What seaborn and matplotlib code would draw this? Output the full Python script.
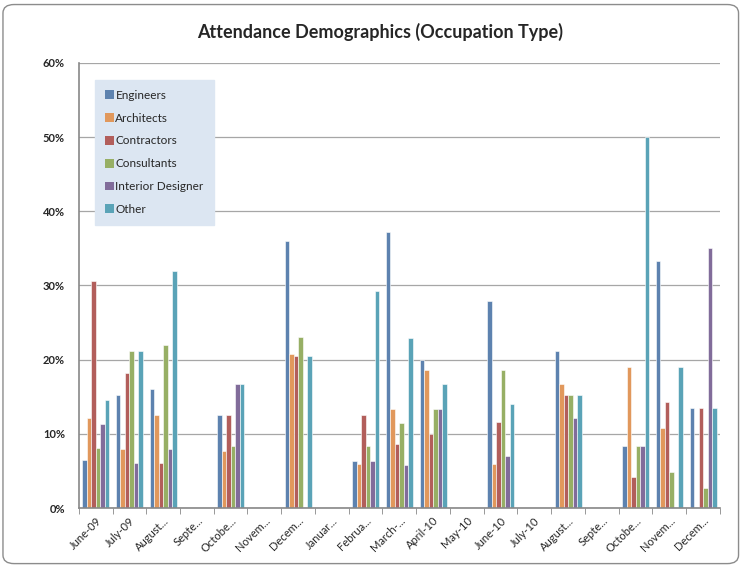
import numpy as np
import pandas as pd
import matplotlib
matplotlib.use("Agg")
import matplotlib.pyplot as plt
import seaborn as sns
from matplotlib.patches import FancyBboxPatch
from matplotlib.ticker import PercentFormatter

nan = np.nan

months = ["June-09", "July-09", "August-09", "September-09", "October-09",
          "November-09", "December-09", "January-10", "February-10",
          "March-10", "April-10", "May-10", "June-10", "July-10",
          "August-10", "September-10", "October-10", "November-10",
          "December-10"]
tick_labels = ["June-09", "July-09", "August...", "Septe...", "Octobe...",
               "Novem...", "Decem...", "Januar...", "Februa...", "March-...",
               "April-10", "May-10", "June-10", "July-10", "August...",
               "Septe...", "Octobe...", "Novem...", "Decem..."]

series = ["Engineers", "Architects", "Contractors", "Consultants",
          "Interior Designer", "Other"]

engineers = [6.5, 15.2, 16.0, nan, 12.5, nan, 36.0, nan, 6.3, 37.2, 20.0,
             nan, 27.9, nan, 21.2, nan, 8.3, 33.3, 13.5]
architects = [12.2, 8.0, 12.5, nan, 7.7, nan, 20.8, nan, 5.9, 13.3, 18.6,
              nan, 6.0, nan, 16.7, nan, 19.0, 10.8, nan]
contractors = [30.6, 18.2, 6.1, nan, 12.5, nan, 20.5, nan, 12.5, 8.6, 10.0,
               nan, 11.6, nan, 15.2, nan, 4.2, 14.3, 13.5]
consultants = [8.1, 21.2, 22.0, nan, 8.3, nan, 23.1, nan, 8.4, 11.4, 13.3,
               nan, 18.6, nan, 15.2, nan, 8.3, 4.8, 2.7]
interior = [11.3, 6.1, 8.0, nan, 16.7, nan, nan, nan, 6.3, 5.8, 13.3,
            nan, 7.0, nan, 12.1, nan, 8.3, nan, 35.1]
other = [14.5, 21.2, 32.0, nan, 16.7, nan, 20.5, nan, 29.2, 22.9, 16.7,
         nan, 14.0, nan, 15.2, nan, 50.0, 19.0, 13.5]

colors = ["#4F81BD", "#F79646", "#C0504D", "#9BBB59", "#8064A2", "#4BACC6"]

values = [engineers, architects, contractors, consultants, interior, other]
rows = []
for name, vals in zip(series, values):
    for m, v in zip(months, vals):
        rows.append({"Month": m, "Occupation": name, "Share": v})
df = pd.DataFrame(rows)

sns.set_style("white")
plt.rcParams["font.family"] = ["Lato", "DejaVu Sans"]

fig = plt.figure(figsize=(7.43, 5.67), dpi=100)
ax = fig.add_axes([0.106, 0.104, 0.863, 0.785])

sns.barplot(data=df, x="Month", y="Share", hue="Occupation", order=months,
            hue_order=series, palette=colors, width=0.8, errorbar=None,
            edgecolor="white", linewidth=0.4, ax=ax)

ax.set_ylim(0, 60)
ax.set_xlim(-0.5, len(months) - 0.5)
ax.set_yticks(range(0, 61, 10))
ax.yaxis.set_major_formatter(PercentFormatter(decimals=0))
ax.grid(axis="y", color="#a6a6a6", linewidth=0.9)
ax.set_axisbelow(True)
ax.set_xlabel("")
ax.set_ylabel("")

ax.set_xticks(range(len(months)))
ax.set_xticklabels(tick_labels, rotation=45, ha="right", rotation_mode="anchor",
                   fontsize=8)
ax.set_xticks(np.arange(-0.5, len(months), 1), minor=True)
ax.tick_params(axis="x", which="major", length=0, pad=5)
ax.tick_params(axis="x", which="minor", length=4, color="#888888", bottom=True)
ax.tick_params(axis="y", labelsize=8, length=0, pad=10)
for lbl in ax.get_yticklabels():
    lbl.set_fontweight("bold")

for s in ["top", "right"]:
    ax.spines[s].set_visible(False)
for s in ["left", "bottom"]:
    ax.spines[s].set_color("#888888")
    ax.spines[s].set_linewidth(1.2)

leg = ax.legend(loc="upper left", bbox_to_anchor=(0.025, 0.962), fontsize=8.5,
                frameon=True, fancybox=False, labelspacing=1.0,
                handlelength=0.75, handleheight=0.75, handletextpad=0.15,
                borderpad=0.85, borderaxespad=0)
leg.get_frame().set_facecolor("#DCE6F2")
leg.get_frame().set_edgecolor("#DCE6F2")
leg.get_frame().set_alpha(1)
for h in leg.legend_handles:
    h.set_edgecolor("none")

fig.text(0.512, 0.944, "Attendance Demographics (Occupation Type)",
         ha="center", va="center", fontsize=13, fontweight="bold")

border = FancyBboxPatch((0.004, 0.006), 0.99, 0.986, transform=fig.transFigure,
                        boxstyle="round,pad=0,rounding_size=0.015",
                        facecolor="none", edgecolor="#8c8c8c", linewidth=1)
fig.patches.append(border)

fig.savefig("out.png", dpi=100)
